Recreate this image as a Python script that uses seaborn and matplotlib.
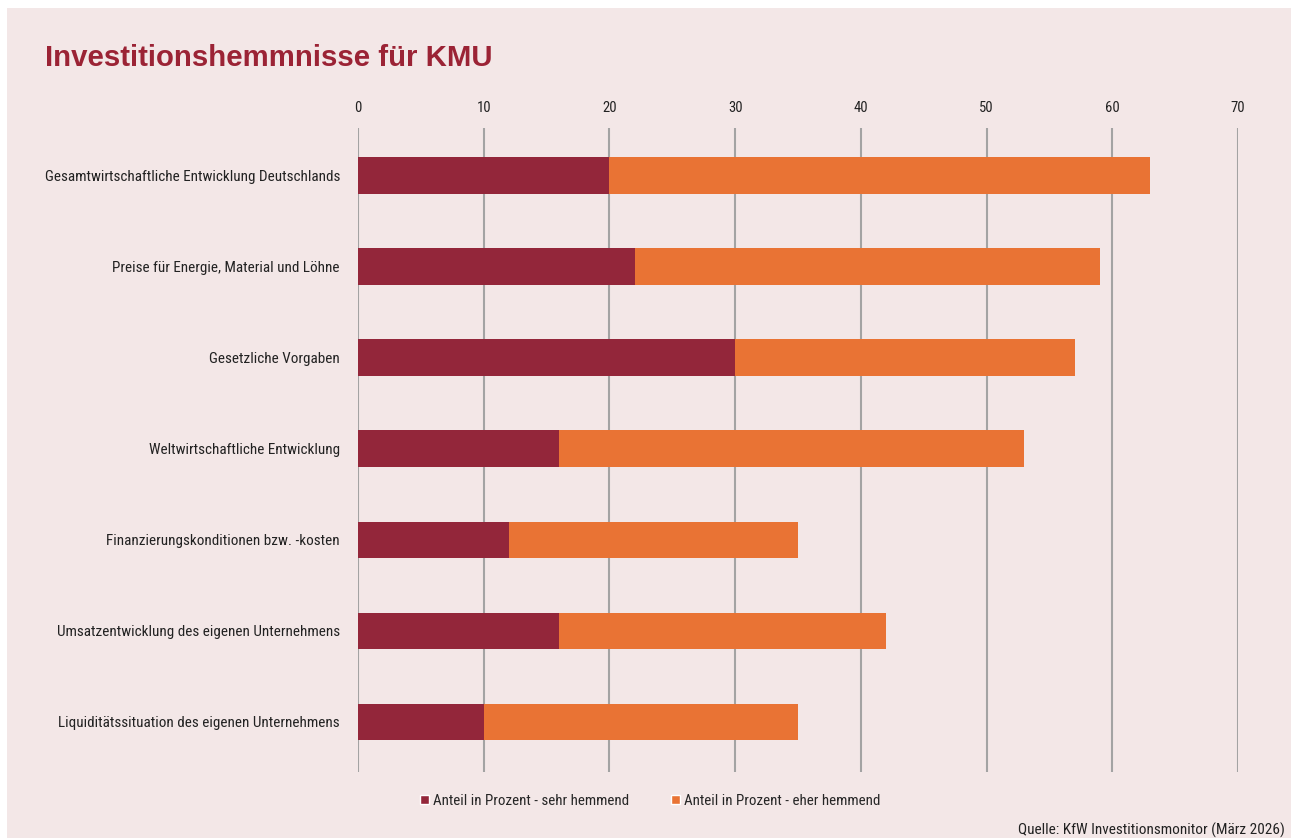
import numpy as np
import pandas as pd
import matplotlib.pyplot as plt
import seaborn as sns
from matplotlib.patches import Rectangle, Patch

categories = [
    "Gesamtwirtschaftliche Entwicklung Deutschlands",
    "Preise für Energie, Material und Löhne",
    "Gesetzliche Vorgaben",
    "Weltwirtschaftliche Entwicklung",
    "Finanzierungskonditionen bzw. -kosten",
    "Umsatzentwicklung des eigenen Unternehmens",
    "Liquiditätssituation des eigenen Unternehmens",
]
sehr_hemmend = [20, 22, 30, 16, 12, 16, 10]
eher_hemmend = [43, 37, 27, 37, 23, 26, 25]
x_ticks = [0, 10, 20, 30, 40, 50, 60, 70]

RED = "#93263A"
ORANGE = "#E97334"
BG = "#F3E7E7"

df = pd.DataFrame({"kategorie": categories, "sehr": sehr_hemmend, "eher": eher_hemmend})
df["gesamt"] = df["sehr"] + df["eher"]

sns.set_theme(style="white")
plt.rcParams["font.family"] = ["Roboto Condensed", "Liberation Sans Narrow", "Roboto", "DejaVu Sans"]

fig = plt.figure(figsize=(12.91, 8.38), dpi=100)
fig.patch.set_facecolor("white")
fig.patches.append(Rectangle((7 / 1291, 0), 1, 1 - 8 / 838, transform=fig.transFigure,
                             facecolor=BG, edgecolor="none", zorder=-10))

ax = fig.add_axes([358 / 1291, 1 - 772 / 838, (1238 - 358) / 1291, (772 - 128) / 838])
ax.set_facecolor(BG)

# stacked bars: total first (orange), then the dark part over it
sns.barplot(data=df, y="kategorie", x="gesamt", color=ORANGE, orient="h",
            width=0.4, saturation=1, linewidth=0, ax=ax, zorder=3)
sns.barplot(data=df, y="kategorie", x="sehr", color=RED, orient="h",
            width=0.4, saturation=1, linewidth=0, ax=ax, zorder=4)

ax.set_xlim(0, 70)
ax.set_ylim(6.55, -0.52)
ax.set_xticks(x_ticks)
ax.xaxis.tick_top()
ax.tick_params(axis="x", length=0, pad=9.5, labelsize=10.5, colors="#222222")
ax.tick_params(axis="y", length=0, pad=13, labelsize=10.9, colors="#222222")
ax.set_xlabel("")
ax.set_ylabel("")
for s in ax.spines.values():
    s.set_visible(False)
for t in x_ticks:
    ax.axvline(t, color="#A3A3A3", lw=1.5, zorder=1)

fig.text(45 / 1291, 1 - 58 / 838, "Investitionshemmnisse für KMU", fontsize=21.2,
         fontweight="bold", color="#9B2335", va="center", ha="left",
         family=["Liberation Sans", "DejaVu Sans"])

handles = [Patch(facecolor=RED, label="Anteil in Prozent - sehr hemmend"),
           Patch(facecolor=ORANGE, label="Anteil in Prozent - eher hemmend")]
fig.legend(handles=handles, loc="center", bbox_to_anchor=(650 / 1291, 1 - 801 / 838),
           ncol=2, frameon=False, fontsize=10.8, handlelength=0.6, handleheight=0.6,
           handletextpad=0.25, columnspacing=2.8)

fig.text(1285 / 1291, 1 - 830 / 838, "Quelle: KfW Investitionsmonitor (März 2026)",
         fontsize=11, ha="right", va="center", color="#222222")

fig.savefig("out.png", dpi=100, facecolor=fig.get_facecolor())
